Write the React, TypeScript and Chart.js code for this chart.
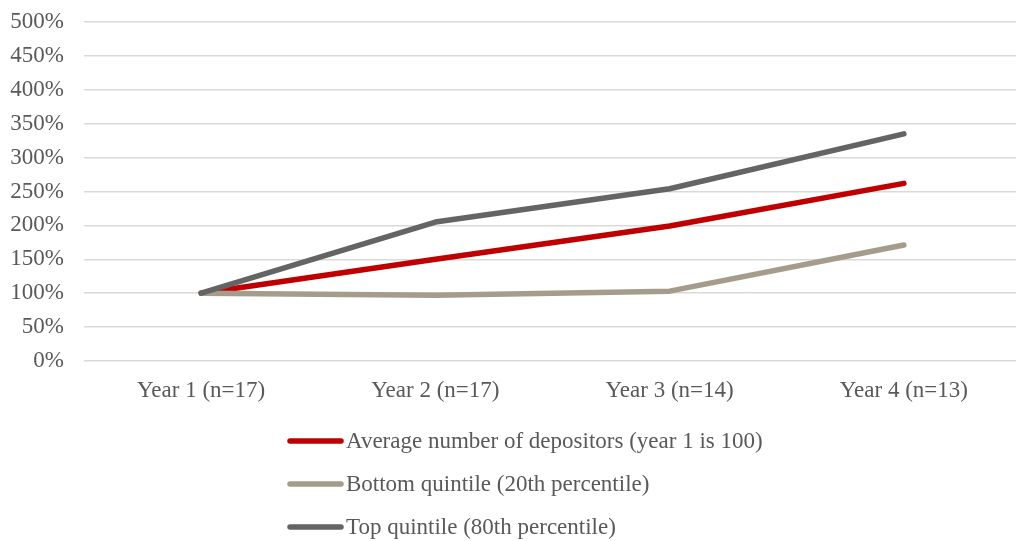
import React, { useEffect, useRef } from "react";
import { Chart, registerables } from "chart.js";

Chart.register(...registerables);

const categories = ["Year 1 (n=17)", "Year 2 (n=17)", "Year 3 (n=14)", "Year 4 (n=13)"];
const averageDepositors = [100, 150, 199, 262];
const bottomQuintile = [100, 97, 103, 171];
const topQuintile = [100, 205, 254, 335];
const seriesNames = [
  "Average number of depositors (year 1 is 100)",
  "Bottom quintile (20th percentile)",
  "Top quintile (80th percentile)",
];
const seriesColors = ["#c00000", "#a59c8c", "#646464"];

const FONT = "'Liberation Serif', 'Times New Roman', serif";
const TEXT_COLOR = "#595959";
const FONT_SIZE = 23;
const LINE_WIDTH = 5.5;

const legendPlugin = {
  id: "verticalLegend",
  afterDraw(chart: any) {
    const ctx = chart.ctx;
    ctx.save();
    ctx.font = `${FONT_SIZE}px ${FONT}`;
    ctx.fillStyle = TEXT_COLOR;
    ctx.textBaseline = "middle";
    ctx.textAlign = "left";
    const startY = 441;
    const step = 43;
    chart.data.datasets.forEach((ds: any, i: number) => {
      const y = startY + i * step;
      ctx.strokeStyle = ds.borderColor;
      ctx.lineWidth = LINE_WIDTH;
      ctx.lineCap = "round";
      ctx.beginPath();
      ctx.moveTo(290, y);
      ctx.lineTo(341, y);
      ctx.stroke();
      ctx.fillText(ds.label, 346, y + 1);
    });
    ctx.restore();
  },
};

export default function App() {
  const ref = useRef<HTMLCanvasElement>(null);
  useEffect(() => {
    if (!ref.current) return;
    const chart = new Chart(ref.current, {
      type: "line",
      data: {
        labels: categories,
        datasets: [
          { label: seriesNames[0], data: averageDepositors, borderColor: seriesColors[0], backgroundColor: seriesColors[0], order: 2 },
          { label: seriesNames[1], data: bottomQuintile, borderColor: seriesColors[1], backgroundColor: seriesColors[1], order: 1 },
          { label: seriesNames[2], data: topQuintile, borderColor: seriesColors[2], backgroundColor: seriesColors[2], order: 0 },
        ],
      },
      options: {
        animation: false,
        responsive: false,
        maintainAspectRatio: false,
        layout: { padding: { top: 22, right: 0, left: 0, bottom: 0 } },
        elements: {
          line: { borderWidth: LINE_WIDTH, tension: 0, borderCapStyle: "round", borderJoinStyle: "round" },
          point: { radius: 0, hoverRadius: 0 },
        },
        plugins: {
          legend: { display: false },
          tooltip: { enabled: false },
        },
        scales: {
          x: {
            offset: true,
            grid: { display: false, drawTicks: false },
            border: { display: false },
            ticks: { color: TEXT_COLOR, font: { family: FONT, size: FONT_SIZE }, padding: 16, maxRotation: 0 },
            afterFit(scale: any) {
              scale.height = 180;
              scale.paddingLeft = 0;
              scale.paddingRight = 0;
            },
          },
          y: {
            min: 0,
            max: 500,
            ticks: {
              stepSize: 50,
              color: TEXT_COLOR,
              font: { family: FONT, size: FONT_SIZE },
              padding: 20,
              callback: (v: any) => `${v}%`,
            },
            grid: { color: "#d9d9d9", lineWidth: 1.5, drawTicks: false },
            border: { display: false },
            afterFit(scale: any) {
              scale.width = 84;
              scale.paddingTop = 0;
              scale.paddingBottom = 0;
            },
          },
        },
      },
      plugins: [legendPlugin],
    });
    return () => chart.destroy();
  }, []);
  return (
    <div style={{ position: "fixed", left: 0, top: 0, width: 1016, height: 541, background: "#fff", overflow: "hidden" }}>
      <canvas ref={ref} width={1021} height={541} style={{ display: "block" }} />
    </div>
  );
}
